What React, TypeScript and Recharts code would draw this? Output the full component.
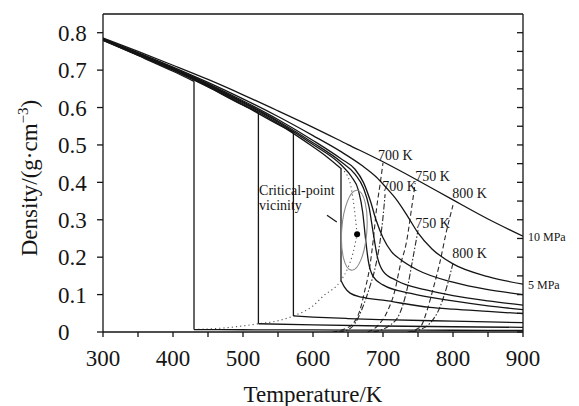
import React from "react";
import { LineChart, Line, XAxis, YAxis, ReferenceDot, ReferenceLine, Label } from "recharts";

type Pt = [number, number];

// isobars above the critical pressure: [T in K, density in g/cm3]
const iso10MPa: Pt[] = [[300, 0.786], [350, 0.75], [400, 0.713], [450, 0.675], [500, 0.634], [550, 0.591], [600, 0.547], [650, 0.501], [700, 0.455], [750, 0.405], [800, 0.353], [850, 0.302], [900, 0.256]];
const iso5MPa: Pt[] = [[300, 0.784], [350, 0.747], [400, 0.708], [450, 0.667], [500, 0.623], [550, 0.576], [600, 0.525], [640, 0.482], [670, 0.445], [690, 0.415], [705, 0.385], [720, 0.352], [735, 0.31], [750, 0.265], [770, 0.222], [800, 0.182], [850, 0.148], [900, 0.128]];
const isoA: Pt[] = [[300, 0.783], [350, 0.745], [400, 0.706], [450, 0.664], [500, 0.618], [550, 0.568], [600, 0.512], [640, 0.463], [660, 0.435], [672, 0.4], [682, 0.35], [690, 0.3], [700, 0.252], [712, 0.215], [724, 0.195], [750, 0.165], [800, 0.133], [850, 0.113], [900, 0.1]];
const isoB: Pt[] = [[300, 0.783], [350, 0.744], [400, 0.705], [450, 0.662], [500, 0.615], [550, 0.564], [600, 0.506], [640, 0.455], [660, 0.422], [672, 0.385], [680, 0.335], [686, 0.265], [692, 0.2], [700, 0.163], [720, 0.137], [760, 0.113], [800, 0.097], [850, 0.083], [900, 0.072]];
const isoC: Pt[] = [[300, 0.782], [350, 0.743], [400, 0.704], [450, 0.66], [500, 0.613], [550, 0.561], [600, 0.501], [640, 0.447], [655, 0.415], [665, 0.378], [671, 0.32], [675, 0.25], [679, 0.19], [686, 0.148], [700, 0.126], [740, 0.103], [800, 0.083], [850, 0.07], [900, 0.06]];

// subcritical isobars: liquid branch, then vapour branch after the jump at T_sat
const liq640: Pt[] = [[300, 0.781], [350, 0.742], [400, 0.702], [450, 0.658], [500, 0.61], [550, 0.557], [600, 0.495], [620, 0.468], [640, 0.437]];
const vap640: Pt[] = [[640, 0.138], [645, 0.12], [653, 0.104], [670, 0.093], [700, 0.085], [767, 0.066], [800, 0.061], [850, 0.055], [900, 0.049]];
const liq572: Pt[] = [[300, 0.781], [350, 0.741], [400, 0.701], [450, 0.656], [500, 0.607], [550, 0.555], [572, 0.534]];
const vap572: Pt[] = [[572, 0.043], [600, 0.04], [650, 0.036], [700, 0.033], [800, 0.029], [900, 0.025]];
const liq522: Pt[] = [[300, 0.78], [350, 0.74], [400, 0.7], [450, 0.655], [500, 0.606], [522, 0.587]];
const vap522: Pt[] = [[522, 0.022], [600, 0.019], [700, 0.016], [800, 0.014], [900, 0.0125]];
const liq430: Pt[] = [[300, 0.78], [350, 0.739], [400, 0.697], [430, 0.67]];
const vap430: Pt[] = [[430, 0.0065], [500, 0.006], [600, 0.0055], [700, 0.005], [800, 0.0047], [900, 0.0045]];

// saturation dome (dotted) and critical point
const satVapor: Pt[] = [[430, 0.0065], [480, 0.012], [522, 0.022], [550, 0.03], [572, 0.043], [600, 0.07], [614, 0.095], [640, 0.138], [650, 0.172], [657, 0.21], [663, 0.261]];
const satLiquid: Pt[] = [[640, 0.437], [652, 0.405], [659, 0.33], [663, 0.261]];
const critical: Pt = [663, 0.261];

// temperature-tagged curves: dashed set and dash-dot set
const upper700: Pt[] = [[628, 0], [645, 0.008], [657, 0.022], [667, 0.058], [674, 0.111], [681, 0.173], [686, 0.245], [691, 0.333], [696, 0.397], [700, 0.452]];
const upper750: Pt[] = [[678, 0], [693, 0.018], [707, 0.058], [717, 0.111], [724, 0.173], [734, 0.245], [741, 0.333], [746, 0.398]];
const upper800: Pt[] = [[735, 0], [753, 0.013], [763, 0.058], [771, 0.111], [781, 0.184], [791, 0.272], [800, 0.339]];
const lower700: Pt[] = [[636, 0], [650, 0.006], [660, 0.023], [671, 0.066], [681, 0.12], [689, 0.173], [696, 0.245], [700, 0.307], [703, 0.368]];
const lower750: Pt[] = [[686, 0], [698, 0.006], [710, 0.018], [724, 0.05], [734, 0.111], [743, 0.2], [750, 0.272]];
const lower800: Pt[] = [[740, 0], [752, 0.006], [767, 0.023], [781, 0.065], [791, 0.12], [800, 0.184]];

const xTicks = [300, 350, 400, 450, 500, 550, 600, 650, 700, 750, 800, 850, 900];
const yTicks = [0, 0.05, 0.1, 0.15, 0.2, 0.25, 0.3, 0.35, 0.4, 0.45, 0.5, 0.55, 0.6, 0.65, 0.7, 0.75, 0.8];

const tempTags = [
  { t: 693, d: 0.472, text: "700 K" },
  { t: 746, d: 0.416, text: "750 K" },
  { t: 799, d: 0.371, text: "800 K" },
  { t: 699, d: 0.39, text: "700 K" },
  { t: 746, d: 0.291, text: "750 K" },
  { t: 799, d: 0.21, text: "800 K" },
];
const pressureTags = [
  { d: 0.253, text: "10 MPa" },
  { d: 0.125, text: "5 MPa" },
];

const W = 579;
const H = 406;
const MARGIN = { top: 14, right: 56, left: 0, bottom: 0 };
const Y_AXIS_W = 103;
const X_AXIS_H = 74;
const PLOT_W = W - MARGIN.right - Y_AXIS_W;
const PLOT_H = H - MARGIN.top - X_AXIS_H;
const X_DOMAIN: [number, number] = [300, 900];
const Y_DOMAIN: [number, number] = [0, 0.85];
const PX_PER_K = PLOT_W / (X_DOMAIN[1] - X_DOMAIN[0]);
const PX_PER_D = PLOT_H / (Y_DOMAIN[1] - Y_DOMAIN[0]);

const SERIF = "'Liberation Serif', 'DejaVu Serif', serif";
const INK = "#151515";

const rows = (pts: Pt[]) => pts.map(([t, d]) => ({ t, d }));

const XTick = ({ x, y, payload }: any) =>
  payload.value % 100 === 0 ? (
    <text x={x} y={y} dy="0.71em" textAnchor="middle" fontSize={23} fontFamily={SERIF} fill={INK}>
      {payload.value}
    </text>
  ) : (
    <g />
  );

const YTick = ({ x, y, payload }: any) => {
  const v = payload.value;
  if (Math.round(v * 100) % 10 !== 0) return <g />;
  return (
    <text x={x - 36} y={y} dy="0.36em" textAnchor="start" fontSize={23} fontFamily={SERIF} fill={INK}>
      {v === 0 ? "0" : v.toFixed(1)}
    </text>
  );
};

const YTitle = ({ viewBox }: any) => {
  const cx = viewBox.x + 37;
  const cy = viewBox.y + viewBox.height / 2 + 5;
  return (
    <text x={cx} y={cy} transform={`rotate(-90 ${cx} ${cy})`} textAnchor="middle" fontSize={23} fontFamily={SERIF} fill={INK}>
      Density/(g·cm
      <tspan fontSize={15} dy={-9}>−3</tspan>
      <tspan dy={9}>)</tspan>
    </text>
  );
};

const textShape = (text: string, size: number, dx = 0) => (p: any) => (
  <text x={p.cx + dx} y={p.cy} fontSize={size} fontFamily={SERIF} fill={INK} dominantBaseline="central">
    {text}
  </text>
);

const ellipseShape = (p: any) => {
  const rx = 18 * PX_PER_K;
  const ry = 0.107 * PX_PER_D;
  return (
    <ellipse cx={p.cx} cy={p.cy} rx={rx} ry={ry} transform={`rotate(4 ${p.cx} ${p.cy})`} fill="none" stroke="#8a8a8a" strokeWidth={1.1} />
  );
};

const solid = { type: "monotone" as const, stroke: INK, strokeWidth: 1.3, dot: false, isAnimationActive: false };
const dotted = { type: "monotone" as const, stroke: "#555", strokeWidth: 1.1, strokeDasharray: "1.2 3", dot: false, isAnimationActive: false };

export default function App() {
  const supercritical = [iso10MPa, iso5MPa, isoA, isoB, isoC];
  const subcritical = [
    [liq640, vap640],
    [liq572, vap572],
    [liq522, vap522],
    [liq430, vap430],
  ];
  const dashed = [upper700, upper750, upper800];
  const dashDot = [lower700, lower750, lower800];

  return (
    <div style={{ position: "absolute", left: 0, top: 0, background: "#fff" }}>
      <LineChart width={W} height={H} margin={MARGIN}>
        <XAxis
          dataKey="t"
          type="number"
          domain={X_DOMAIN}
          ticks={xTicks}
          tick={<XTick />}
          tickSize={5}
          tickMargin={13}
          height={X_AXIS_H}
          stroke={INK}
          strokeWidth={1.3}
          allowDataOverflow
        >
          <Label value="Temperature/K" position="insideBottom" offset={4} fontSize={23} fontFamily={SERIF} fill={INK} />
        </XAxis>
        <XAxis
          xAxisId="top"
          orientation="top"
          type="number"
          domain={X_DOMAIN}
          ticks={xTicks}
          tickFormatter={() => ""}
          tickSize={5}
          mirror
          stroke={INK}
          strokeWidth={1.3}
          allowDataOverflow
        />
        <YAxis
          type="number"
          domain={Y_DOMAIN}
          ticks={yTicks}
          tick={<YTick />}
          tickSize={6}
          tickMargin={3}
          width={Y_AXIS_W}
          stroke={INK}
          strokeWidth={1.3}
          allowDataOverflow
        >
          <Label content={<YTitle />} />
        </YAxis>
        <YAxis
          yAxisId="right"
          orientation="right"
          type="number"
          domain={Y_DOMAIN}
          ticks={yTicks}
          tickFormatter={() => ""}
          tickSize={6}
          mirror
          stroke={INK}
          strokeWidth={1.3}
          allowDataOverflow
        />

        <Line data={rows(satVapor)} dataKey="d" {...dotted} />
        <Line data={rows(satLiquid)} dataKey="d" {...dotted} />

        {dashed.map((pts, i) => (
          <Line key={`ds${i}`} data={rows(pts)} dataKey="d" type="monotone" stroke="#2a2a2a" strokeWidth={1.1} strokeDasharray="5 3" dot={false} isAnimationActive={false} />
        ))}
        {dashDot.map((pts, i) => (
          <Line key={`dd${i}`} data={rows(pts)} dataKey="d" type="monotone" stroke="#2a2a2a" strokeWidth={1.1} strokeDasharray="6 2 1.5 2" dot={false} isAnimationActive={false} />
        ))}

        {supercritical.map((pts, i) => (
          <Line key={`sc${i}`} data={rows(pts)} dataKey="d" {...solid} />
        ))}
        {subcritical.map(([liq, vap], i) => (
          <React.Fragment key={`sub${i}`}>
            <Line data={rows(liq)} dataKey="d" {...solid} />
            <Line data={rows([liq[liq.length - 1], vap[0]])} dataKey="d" {...solid} type="linear" />
            <Line data={rows(vap)} dataKey="d" {...solid} />
          </React.Fragment>
        ))}

        <ReferenceDot x={659} y={0.272} shape={ellipseShape} />
        <ReferenceDot x={critical[0]} y={critical[1]} r={3} fill="#000" stroke="none" />
        <ReferenceLine segment={[{ x: 620, y: 0.312 }, { x: 634, y: 0.294 }]} stroke={INK} strokeWidth={1.2} />
        <ReferenceDot x={523} y={0.379} shape={textShape("Critical-point", 14)} />
        <ReferenceDot x={523} y={0.339} shape={textShape("vicinity", 14)} />

        {tempTags.map((tag, i) => (
          <ReferenceDot key={`tt${i}`} x={tag.t} y={tag.d} shape={textShape(tag.text, 14)} />
        ))}
        {pressureTags.map((tag, i) => (
          <ReferenceDot key={`pt${i}`} x={900} y={tag.d} shape={textShape(tag.text, 12, 5)} />
        ))}
      </LineChart>
    </div>
  );
}
